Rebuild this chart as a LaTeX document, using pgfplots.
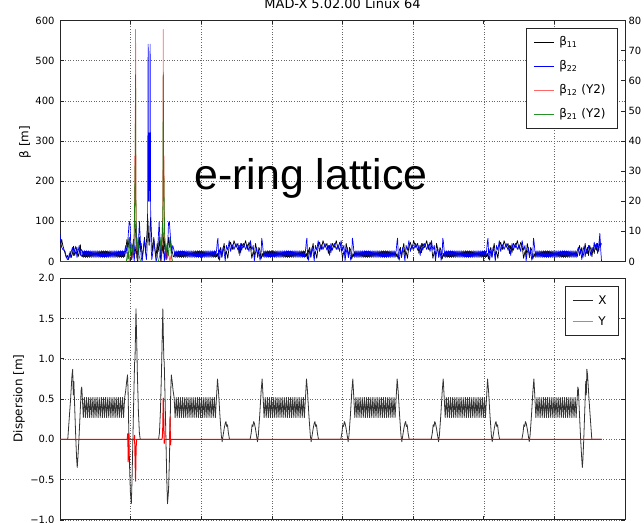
\documentclass[border=0pt]{standalone}
\usepackage{fontspec}
\setmainfont{DejaVu Sans}
\newfontfamily\arialfont{Liberation Sans}
\usepackage{pgfplots}
\usepackage{pgfplotstable}
\pgfplotsset{compat=1.18}
\definecolor{mplgreen}{rgb}{0,0.5,0}

\pgfplotstableread[row sep=\\]{
s b11 b22\\
0 50 68\\ 6 45 50\\ 12 55 35\\ 20 40 30\\ 28 30 28\\ 36 20 25\\ 44 10 12\\ 52 15 5\\ 60 5 8\\ 66 12 20\\ 72 25 10\\ 80 10 25\\ 88 20 35\\ 96 38 15\\ 104 15 30\\ 112 25 38\\ 120 35 10\\ 128 12 25\\ 136 20 40\\ 144 42 15\\ 150 15 30\\
158 12 27\\ 165 25 10\\ 173 12 27\\ 180 25 10\\ 188 12 27\\ 195 25 10\\ 203 12 27\\ 210 25 10\\ 218 12 27\\ 225 25 10\\ 233 12 27\\ 240 25 10\\ 248 12 27\\ 255 25 10\\ 263 12 27\\ 270 25 10\\ 278 12 27\\ 285 25 10\\ 293 12 27\\ 300 25 10\\ 308 12 27\\ 315 25 10\\ 323 12 27\\ 330 25 10\\ 338 12 27\\ 345 25 10\\ 353 12 27\\ 360 25 10\\ 368 12 27\\ 375 25 10\\ 383 12 27\\ 390 25 10\\ 398 12 27\\ 405 25 10\\ 413 12 27\\ 420 25 10\\ 428 12 27\\ 435 25 10\\ 443 12 27\\ 450 25 10\\ 458 12 27\\
466 30 40\\ 474 55 20\\ 482 35 60\\ 490 60 100\\ 496 40 95\\ 502 20 30\\ 508 5 5\\ 514 30 40\\ 520 55 20\\ 526 30 0\\ 532 20 60\\ 538 40 100\\ 544 10 40\\ 550 0 5\\ 556 30 50\\ 562 60 100\\ 568 25 60\\ 575 45 10\\ 582 10 0\\ 590 30 30\\ 598 60 55\\ 606 25 20\\ 612 50 5\\ 616 70 30\\ 620 110 100\\ 624 90 541\\ 627 60 150\\ 631 40 320\\ 635 60 150\\ 638 90 541\\ 642 110 100\\ 646 80 30\\ 650 50 5\\ 656 25 20\\ 664 60 55\\ 672 30 30\\ 680 10 0\\ 688 45 10\\ 696 25 60\\ 702 60 100\\ 708 30 50\\ 714 0 5\\ 720 20 40\\ 726 40 100\\ 732 20 60\\ 738 55 0\\ 744 30 20\\ 750 5 40\\ 756 20 5\\ 762 40 30\\ 768 60 95\\ 774 35 100\\ 782 55 60\\ 790 30 20\\ 798 20 40\\ 802 12 35\\
808 12 27\\ 815 25 10\\ 823 12 27\\ 830 25 10\\ 838 12 27\\ 845 25 10\\ 853 12 27\\ 860 25 10\\ 868 12 27\\ 875 25 10\\ 883 12 27\\ 890 25 10\\ 898 12 27\\ 905 25 10\\ 913 12 27\\ 920 25 10\\ 928 12 27\\ 935 25 10\\ 943 12 27\\ 950 25 10\\ 958 12 27\\ 965 25 10\\ 973 12 27\\ 980 25 10\\ 988 12 27\\ 995 25 10\\ 1003 12 27\\ 1010 25 10\\ 1018 12 27\\ 1025 25 10\\ 1033 12 27\\ 1040 25 10\\ 1048 12 27\\ 1055 25 10\\ 1063 12 27\\ 1070 25 10\\ 1078 12 27\\ 1085 25 10\\ 1093 12 27\\ 1100 25 10\\ 1108 12 27\\
1114 20 50\\ 1118 12 58\\ 1123 6 15\\ 1130 28 3\\ 1138 35 30\\ 1146 10 12\\ 1154 30 35\\ 1162 45 22\\ 1170 15 2\\ 1178 25 40\\ 1188 8 28\\ 1198 38 52\\ 1208 48 25\\ 1220 30 42\\ 1232 52 30\\ 1246 35 45\\ 1260 45 28\\ 1267 20 40\\ 1273 40 15\\ 1279 22 45\\ 1286 45 28\\ 1300 35 45\\ 1314 52 30\\ 1326 30 42\\ 1338 48 25\\ 1348 38 52\\ 1358 8 28\\ 1368 25 40\\ 1376 15 2\\ 1384 45 22\\ 1392 30 35\\ 1400 10 12\\ 1408 35 30\\ 1416 28 3\\ 1423 6 15\\ 1428 12 58\\ 1432 20 50\\
1438 12 27\\ 1445 25 10\\ 1453 12 27\\ 1460 25 10\\ 1468 12 27\\ 1475 25 10\\ 1483 12 27\\ 1490 25 10\\ 1498 12 27\\ 1505 25 10\\ 1513 12 27\\ 1520 25 10\\ 1528 12 27\\ 1535 25 10\\ 1543 12 27\\ 1550 25 10\\ 1558 12 27\\ 1565 25 10\\ 1573 12 27\\ 1580 25 10\\ 1588 12 27\\ 1595 25 10\\ 1603 12 27\\ 1610 25 10\\ 1618 12 27\\ 1625 25 10\\ 1633 12 27\\ 1640 25 10\\ 1648 12 27\\ 1655 25 10\\ 1663 12 27\\ 1670 25 10\\ 1678 12 27\\ 1685 25 10\\ 1693 12 27\\ 1700 25 10\\ 1708 12 27\\ 1715 25 10\\ 1723 12 27\\ 1730 25 10\\ 1738 12 27\\
1744 20 50\\ 1748 12 58\\ 1753 6 15\\ 1760 28 3\\ 1768 35 30\\ 1776 10 12\\ 1784 30 35\\ 1792 45 22\\ 1800 15 2\\ 1808 25 40\\ 1818 8 28\\ 1828 38 52\\ 1838 48 25\\ 1850 30 42\\ 1862 52 30\\ 1876 35 45\\ 1890 45 28\\ 1900 20 40\\ 1909 40 15\\ 1918 22 45\\ 1928 45 28\\ 1942 35 45\\ 1956 52 30\\ 1968 30 42\\ 1980 48 25\\ 1990 38 52\\ 2000 8 28\\ 2010 25 40\\ 2018 15 2\\ 2026 45 22\\ 2034 30 35\\ 2042 10 12\\ 2050 35 30\\ 2058 28 3\\ 2065 6 15\\ 2070 12 58\\ 2074 20 50\\
2080 12 27\\ 2087 25 10\\ 2095 12 27\\ 2102 25 10\\ 2110 12 27\\ 2117 25 10\\ 2125 12 27\\ 2132 25 10\\ 2140 12 27\\ 2147 25 10\\ 2155 12 27\\ 2162 25 10\\ 2170 12 27\\ 2177 25 10\\ 2185 12 27\\ 2192 25 10\\ 2200 12 27\\ 2207 25 10\\ 2215 12 27\\ 2222 25 10\\ 2230 12 27\\ 2237 25 10\\ 2245 12 27\\ 2252 25 10\\ 2260 12 27\\ 2267 25 10\\ 2275 12 27\\ 2282 25 10\\ 2290 12 27\\ 2297 25 10\\ 2305 12 27\\ 2312 25 10\\ 2320 12 27\\ 2327 25 10\\ 2335 12 27\\ 2342 25 10\\ 2350 12 27\\ 2357 25 10\\ 2365 12 27\\ 2372 25 10\\ 2380 12 27\\
2386 20 50\\ 2390 12 58\\ 2395 6 15\\ 2402 28 3\\ 2410 35 30\\ 2418 10 12\\ 2426 30 35\\ 2434 45 22\\ 2442 15 2\\ 2450 25 40\\ 2460 8 28\\ 2470 38 52\\ 2480 48 25\\ 2492 30 42\\ 2504 52 30\\ 2518 35 45\\ 2532 45 28\\ 2541 20 40\\ 2550 40 15\\ 2559 22 45\\ 2568 45 28\\ 2582 35 45\\ 2596 52 30\\ 2608 30 42\\ 2620 48 25\\ 2630 38 52\\ 2640 8 28\\ 2650 25 40\\ 2658 15 2\\ 2666 45 22\\ 2674 30 35\\ 2682 10 12\\ 2690 35 30\\ 2698 28 3\\ 2705 6 15\\ 2710 12 58\\ 2714 20 50\\
2720 12 27\\ 2727 25 10\\ 2735 12 27\\ 2742 25 10\\ 2750 12 27\\ 2757 25 10\\ 2765 12 27\\ 2772 25 10\\ 2780 12 27\\ 2787 25 10\\ 2795 12 27\\ 2802 25 10\\ 2810 12 27\\ 2817 25 10\\ 2825 12 27\\ 2832 25 10\\ 2840 12 27\\ 2847 25 10\\ 2855 12 27\\ 2862 25 10\\ 2870 12 27\\ 2877 25 10\\ 2885 12 27\\ 2892 25 10\\ 2900 12 27\\ 2907 25 10\\ 2915 12 27\\ 2922 25 10\\ 2930 12 27\\ 2937 25 10\\ 2945 12 27\\ 2952 25 10\\ 2960 12 27\\ 2967 25 10\\ 2975 12 27\\ 2982 25 10\\ 2990 12 27\\ 2997 25 10\\ 3005 12 27\\ 3012 25 10\\ 3020 12 27\\
3026 20 50\\ 3030 12 58\\ 3035 6 15\\ 3042 28 3\\ 3050 35 30\\ 3058 10 12\\ 3066 30 35\\ 3074 45 22\\ 3082 15 2\\ 3090 25 40\\ 3100 8 28\\ 3110 38 52\\ 3120 48 25\\ 3132 30 42\\ 3144 52 30\\ 3158 35 45\\ 3172 45 28\\ 3182 20 40\\ 3191 40 15\\ 3200 22 45\\ 3210 45 28\\ 3224 35 45\\ 3238 52 30\\ 3250 30 42\\ 3262 48 25\\ 3272 38 52\\ 3282 8 28\\ 3292 25 40\\ 3300 15 2\\ 3308 45 22\\ 3316 30 35\\ 3324 10 12\\ 3332 35 30\\ 3340 28 3\\ 3347 6 15\\ 3352 12 58\\ 3356 20 50\\
3362 12 27\\ 3369 25 10\\ 3377 12 27\\ 3384 25 10\\ 3392 12 27\\ 3399 25 10\\ 3407 12 27\\ 3414 25 10\\ 3422 12 27\\ 3429 25 10\\ 3437 12 27\\ 3444 25 10\\ 3452 12 27\\ 3459 25 10\\ 3467 12 27\\ 3474 25 10\\ 3482 12 27\\ 3489 25 10\\ 3497 12 27\\ 3504 25 10\\ 3512 12 27\\ 3519 25 10\\ 3527 12 27\\ 3534 25 10\\ 3542 12 27\\ 3549 25 10\\ 3557 12 27\\ 3564 25 10\\ 3572 12 27\\ 3579 25 10\\ 3587 12 27\\ 3594 25 10\\ 3602 12 27\\ 3609 25 10\\ 3617 12 27\\ 3624 25 10\\ 3632 12 27\\ 3639 25 10\\ 3647 12 27\\ 3654 25 10\\ 3662 12 27\\
3670 28 35\\ 3678 40 15\\ 3686 20 30\\ 3694 35 5\\ 3702 10 25\\ 3710 25 38\\ 3718 45 12\\ 3726 20 30\\ 3734 35 20\\ 3742 15 40\\ 3750 40 30\\ 3758 30 15\\ 3766 12 35\\ 3774 35 25\\ 3782 20 48\\ 3790 42 30\\ 3798 28 45\\ 3806 45 20\\ 3814 25 40\\ 3822 50 70\\ 3828 40 30\\ 3834 45 0\\
}\betatab

\pgfplotstableread[row sep=\\]{
s b12 b21\\
0 0 0\\ 470 0 0\\ 478 1 3\\ 484 3 1\\ 490 0 8\\ 498 3 2\\ 508 1 6\\ 518 5 2\\ 526 8 10\\ 530 35 25\\ 533 35 35\\ 535 77 62\\ 537 35 20\\ 540 8 8\\ 546 2 4\\ 552 0 8\\ 560 0 2\\ 570 0 0\\ 696 0 0\\ 706 0 2\\ 714 0 8\\ 720 2 4\\ 726 8 10\\ 729 35 20\\ 731 77 62\\ 733 35 35\\ 736 35 25\\ 740 8 10\\ 748 5 2\\ 758 1 6\\ 768 3 2\\ 778 0 8\\ 786 2 3\\ 796 0 0\\ 3834 0 0\\
}\crosstab

\pgfplotstableread[row sep=\\]{
s dx\\
0 0\\ 55 0\\ 65 0.25\\ 75 0.5\\ 85 0.8\\ 90 0.87\\ 94 0.55\\ 98 0.72\\ 104 0.4\\ 112 0\\ 118 -0.25\\ 122 -0.35\\ 127 -0.22\\ 134 0\\ 142 0.3\\ 150 0.62\\ 154 0.65\\
158 0.52\\ 165 0.27\\ 173 0.52\\ 180 0.27\\ 188 0.52\\ 195 0.27\\ 203 0.52\\ 210 0.27\\ 218 0.52\\ 225 0.27\\ 233 0.52\\ 240 0.27\\ 248 0.52\\ 255 0.27\\ 263 0.52\\ 270 0.27\\ 278 0.52\\ 285 0.27\\ 293 0.52\\ 300 0.27\\ 308 0.52\\ 315 0.27\\ 323 0.52\\ 330 0.27\\ 338 0.52\\ 345 0.27\\ 353 0.52\\ 360 0.27\\ 368 0.52\\ 375 0.27\\ 383 0.52\\ 390 0.27\\ 398 0.52\\ 405 0.27\\ 413 0.52\\ 420 0.27\\ 428 0.52\\ 435 0.27\\ 443 0.52\\ 450 0.27\\ 458 0.52\\
465 0.6\\ 472 0.72\\ 478 0.8\\ 482 0.6\\ 486 0.2\\ 492 -0.3\\ 498 -0.65\\ 505 -0.8\\ 510 -0.5\\ 516 0\\ 522 0.5\\ 528 0.95\\ 531 1.0\\ 534 1.25\\ 538 1.62\\ 542 1.3\\ 548 0.8\\ 555 0.35\\ 562 0.08\\ 568 0\\ 698 0\\ 704 0.08\\ 711 0.35\\ 718 0.8\\ 724 1.3\\ 728 1.62\\ 732 1.25\\ 735 1.0\\ 738 0.95\\ 744 0.5\\ 750 0\\ 756 -0.5\\ 761 -0.8\\ 768 -0.65\\ 774 -0.3\\ 780 0.2\\ 784 0.6\\ 788 0.8\\ 794 0.72\\ 801 0.6\\
808 0.52\\ 815 0.27\\ 823 0.52\\ 830 0.27\\ 838 0.52\\ 845 0.27\\ 853 0.52\\ 860 0.27\\ 868 0.52\\ 875 0.27\\ 883 0.52\\ 890 0.27\\ 898 0.52\\ 905 0.27\\ 913 0.52\\ 920 0.27\\ 928 0.52\\ 935 0.27\\ 943 0.52\\ 950 0.27\\ 958 0.52\\ 965 0.27\\ 973 0.52\\ 980 0.27\\ 988 0.52\\ 995 0.27\\ 1003 0.52\\ 1010 0.27\\ 1018 0.52\\ 1025 0.27\\ 1033 0.52\\ 1040 0.27\\ 1048 0.52\\ 1055 0.27\\ 1063 0.52\\ 1070 0.27\\ 1078 0.52\\ 1085 0.27\\ 1093 0.52\\ 1100 0.27\\ 1108 0.52\\
1115 0.75\\ 1122 0.6\\ 1132 0.3\\ 1142 0.05\\ 1148 -0.03\\ 1155 0.05\\ 1163 0.14\\ 1170 0.2\\ 1175 0.22\\ 1180 0.16\\ 1186 0.18\\ 1192 0.08\\ 1200 0\\ 1346 0\\ 1354 0.08\\ 1360 0.18\\ 1366 0.16\\ 1371 0.22\\ 1376 0.2\\ 1383 0.14\\ 1391 0.05\\ 1398 -0.03\\ 1404 0.05\\ 1414 0.3\\ 1424 0.6\\ 1431 0.75\\
1438 0.52\\ 1445 0.27\\ 1453 0.52\\ 1460 0.27\\ 1468 0.52\\ 1475 0.27\\ 1483 0.52\\ 1490 0.27\\ 1498 0.52\\ 1505 0.27\\ 1513 0.52\\ 1520 0.27\\ 1528 0.52\\ 1535 0.27\\ 1543 0.52\\ 1550 0.27\\ 1558 0.52\\ 1565 0.27\\ 1573 0.52\\ 1580 0.27\\ 1588 0.52\\ 1595 0.27\\ 1603 0.52\\ 1610 0.27\\ 1618 0.52\\ 1625 0.27\\ 1633 0.52\\ 1640 0.27\\ 1648 0.52\\ 1655 0.27\\ 1663 0.52\\ 1670 0.27\\ 1678 0.52\\ 1685 0.27\\ 1693 0.52\\ 1700 0.27\\ 1708 0.52\\ 1715 0.27\\ 1723 0.52\\ 1730 0.27\\ 1738 0.52\\
1745 0.75\\ 1752 0.6\\ 1762 0.3\\ 1772 0.05\\ 1778 -0.03\\ 1785 0.05\\ 1793 0.14\\ 1800 0.2\\ 1805 0.22\\ 1810 0.16\\ 1816 0.18\\ 1822 0.08\\ 1830 0\\ 1988 0\\ 1996 0.08\\ 2002 0.18\\ 2008 0.16\\ 2013 0.22\\ 2018 0.2\\ 2025 0.14\\ 2033 0.05\\ 2040 -0.03\\ 2046 0.05\\ 2056 0.3\\ 2066 0.6\\ 2073 0.75\\
2080 0.52\\ 2087 0.27\\ 2095 0.52\\ 2102 0.27\\ 2110 0.52\\ 2117 0.27\\ 2125 0.52\\ 2132 0.27\\ 2140 0.52\\ 2147 0.27\\ 2155 0.52\\ 2162 0.27\\ 2170 0.52\\ 2177 0.27\\ 2185 0.52\\ 2192 0.27\\ 2200 0.52\\ 2207 0.27\\ 2215 0.52\\ 2222 0.27\\ 2230 0.52\\ 2237 0.27\\ 2245 0.52\\ 2252 0.27\\ 2260 0.52\\ 2267 0.27\\ 2275 0.52\\ 2282 0.27\\ 2290 0.52\\ 2297 0.27\\ 2305 0.52\\ 2312 0.27\\ 2320 0.52\\ 2327 0.27\\ 2335 0.52\\ 2342 0.27\\ 2350 0.52\\ 2357 0.27\\ 2365 0.52\\ 2372 0.27\\ 2380 0.52\\
2387 0.75\\ 2394 0.6\\ 2404 0.3\\ 2414 0.05\\ 2420 -0.03\\ 2427 0.05\\ 2435 0.14\\ 2442 0.2\\ 2447 0.22\\ 2452 0.16\\ 2458 0.18\\ 2464 0.08\\ 2472 0\\ 2628 0\\ 2636 0.08\\ 2642 0.18\\ 2648 0.16\\ 2653 0.22\\ 2658 0.2\\ 2665 0.14\\ 2673 0.05\\ 2680 -0.03\\ 2686 0.05\\ 2696 0.3\\ 2706 0.6\\ 2713 0.75\\
2720 0.52\\ 2727 0.27\\ 2735 0.52\\ 2742 0.27\\ 2750 0.52\\ 2757 0.27\\ 2765 0.52\\ 2772 0.27\\ 2780 0.52\\ 2787 0.27\\ 2795 0.52\\ 2802 0.27\\ 2810 0.52\\ 2817 0.27\\ 2825 0.52\\ 2832 0.27\\ 2840 0.52\\ 2847 0.27\\ 2855 0.52\\ 2862 0.27\\ 2870 0.52\\ 2877 0.27\\ 2885 0.52\\ 2892 0.27\\ 2900 0.52\\ 2907 0.27\\ 2915 0.52\\ 2922 0.27\\ 2930 0.52\\ 2937 0.27\\ 2945 0.52\\ 2952 0.27\\ 2960 0.52\\ 2967 0.27\\ 2975 0.52\\ 2982 0.27\\ 2990 0.52\\ 2997 0.27\\ 3005 0.52\\ 3012 0.27\\ 3020 0.52\\
3027 0.75\\ 3034 0.6\\ 3044 0.3\\ 3054 0.05\\ 3060 -0.03\\ 3067 0.05\\ 3075 0.14\\ 3082 0.2\\ 3087 0.22\\ 3092 0.16\\ 3098 0.18\\ 3104 0.08\\ 3112 0\\ 3270 0\\ 3278 0.08\\ 3284 0.18\\ 3290 0.16\\ 3295 0.22\\ 3300 0.2\\ 3307 0.14\\ 3315 0.05\\ 3322 -0.03\\ 3328 0.05\\ 3338 0.3\\ 3348 0.6\\ 3355 0.75\\
3362 0.52\\ 3369 0.27\\ 3377 0.52\\ 3384 0.27\\ 3392 0.52\\ 3399 0.27\\ 3407 0.52\\ 3414 0.27\\ 3422 0.52\\ 3429 0.27\\ 3437 0.52\\ 3444 0.27\\ 3452 0.52\\ 3459 0.27\\ 3467 0.52\\ 3474 0.27\\ 3482 0.52\\ 3489 0.27\\ 3497 0.52\\ 3504 0.27\\ 3512 0.52\\ 3519 0.27\\ 3527 0.52\\ 3534 0.27\\ 3542 0.52\\ 3549 0.27\\ 3557 0.52\\ 3564 0.27\\ 3572 0.52\\ 3579 0.27\\ 3587 0.52\\ 3594 0.27\\ 3602 0.52\\ 3609 0.27\\ 3617 0.52\\ 3624 0.27\\ 3632 0.52\\ 3639 0.27\\ 3647 0.52\\ 3654 0.27\\ 3662 0.52\\
3666 0.65\\ 3670 0.62\\ 3678 0.3\\ 3686 0\\ 3693 -0.22\\ 3698 -0.35\\ 3702 -0.25\\ 3708 0\\ 3716 0.4\\ 3722 0.72\\ 3726 0.55\\ 3730 0.87\\ 3735 0.8\\ 3745 0.5\\ 3755 0.25\\ 3765 0\\ 3834 0\\
}\dxtab

\pgfplotstableread[row sep=\\]{
s dy\\
0 0\\ 476 0\\ 480 0.07\\ 483 -0.28\\ 486 0.07\\ 490 0\\ 524 0\\ 528 0.05\\ 532 -0.3\\ 535 -0.52\\ 539 -0.1\\ 543 0\\ 723 0\\ 727 0.1\\ 731 0.51\\ 734 0.3\\ 738 -0.05\\ 742 0\\ 776 0\\ 779 0.28\\ 782 -0.07\\ 786 0\\ 3834 0\\
}\dytab

\pgfplotsset{
  myax/.style={
    scale only axis, width=565bp, height=241bp,
    xmin=0, xmax=4000, xtick={0,500,...,4000}, xticklabels={},
    tick align=inside, major tick length=4bp,
    axis line style={black!85, line width=0.7bp},
    tick style={black!85, line width=0.6bp},
    tick label style={font=\fontsize{10}{12}\selectfont},
    /pgf/number format/assume math mode=true,
    legend cell align=left,
    legend image code/.code={\draw[##1, line width=0.9bp] (0bp,0bp) -- (20bp,0bp);},
  },
  mygrid/.style={grid=major, major grid style={dash pattern=on 1bp off 1.6bp, black!60, line width=0.5bp}},
}

\begin{document}
\begin{tikzpicture}
% bottom: dispersion
\begin{axis}[myax, mygrid, at={(60bp,3.2bp)}, anchor=south west, height=241.5bp,
  ymin=-1, ymax=2, ytick={-1,-0.5,0,0.5,1,1.5,2},
  yticklabels={−1.0,−0.5,0.0,0.5,1.0,1.5,2.0},
  yticklabel style={xshift=-2bp},
  legend style={at={(0.9894,0.968)}, anchor=north east, draw=black!85, line width=0.8bp,
    font=\fontsize{12}{12}\selectfont, inner xsep=7bp, inner ysep=8bp, row sep=9bp,
    nodes={inner xsep=5bp, inner ysep=1bp, text height=9bp, text depth=1bp}},
]
\addplot[black!80, line width=0.8bp, line join=round, forget plot] table[x=s, y=dx] {\dxtab};
\addplot[red, line width=1bp, line join=round, forget plot] table[x=s, y=dy] {\dytab};
\addlegendimage{black!85}
\addlegendentry{X}
\addlegendimage{red!60}
\addlegendentry{Y}
\end{axis}
% top: beta, left axis
\begin{axis}[myax, mygrid, at={(60bp,261.5bp)}, anchor=south west,
  ymin=0, ymax=600, ytick={0,100,...,600}, ytick pos=left,
  yticklabel style={xshift=-2bp},
]
\addplot[black, line width=0.7bp, line join=round] table[x=s, y=b11] {\betatab};
\addplot[blue, line width=0.7bp, line join=round] table[x=s, y=b22] {\betatab};
\end{axis}
% top: right axis Y2
\begin{axis}[myax, at={(60bp,261.5bp)}, anchor=south west,
  hide x axis, axis y line*=right,
  ymin=0, ymax=80, ytick={0,10,...,80},
  legend style={at={(0.9876,0.9676)}, anchor=north east, draw=black!85, line width=0.8bp,
    font=\fontsize{12}{12}\selectfont, inner xsep=7bp, inner ysep=7bp, row sep=10bp,
    nodes={inner xsep=5bp, inner ysep=1bp, text height=9bp, text depth=3bp}},
]
\addlegendimage{black}
\addlegendentry{β\textsubscript{11}}
\addlegendimage{blue}
\addlegendentry{β\textsubscript{22}}
\addplot[red, opacity=0.6, line width=0.8bp, line join=round] table[x=s, y=b12] {\crosstab};
\addlegendentry{β\textsubscript{12} (Y2)}
\addplot[mplgreen, opacity=0.85, line width=0.8bp, line join=round] table[x=s, y=b21] {\crosstab};
\addlegendentry{β\textsubscript{21} (Y2)}
\end{axis}
\node[anchor=base, font=\fontsize{13}{15}\selectfont] at (342.5bp,514bp) {MAD-X 5.02.00 Linux 64};
\node[anchor=base, font=\arialfont\fontsize{43}{47}\selectfont] at (311bp,333bp) {e-ring lattice};
\node[rotate=90, font=\fontsize{12}{14}\selectfont] at (25bp,381bp) {β [m]};
\node[rotate=90, font=\fontsize{12}{14}\selectfont] at (19bp,124.5bp) {Dispersion [m]};
\pgfresetboundingbox
\path[use as bounding box] (0bp,0bp) rectangle (644bp,523bp);
\end{tikzpicture}
\end{document}
